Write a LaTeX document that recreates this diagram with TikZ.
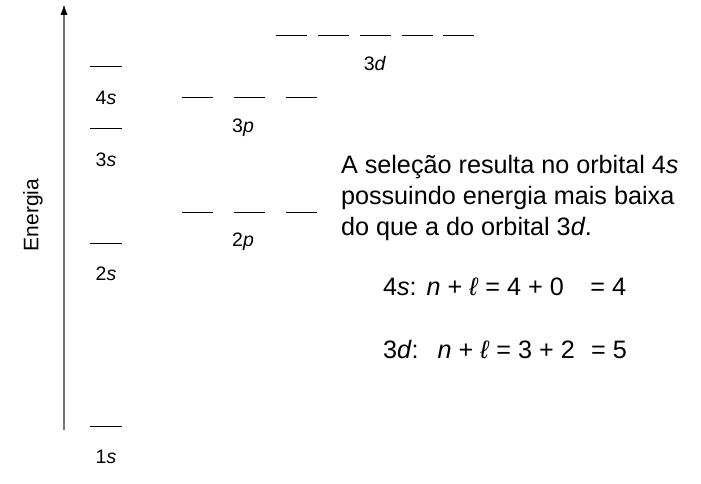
\documentclass[tikz,border=0pt]{standalone}
\usepackage{fontspec}
\setmainfont{Liberation Sans}
\usetikzlibrary{arrows.meta}
\tikzset{
  nivel/.style={draw=black, line width=1pt},
  rotulo/.style={inner sep=0, outer sep=0, font=\fontsize{19.5}{22}\selectfont},
  texto/.style={inner sep=0, outer sep=0, align=left, font=\fontsize{25.2}{31}\selectfont},
}
\begin{document}
\begin{tikzpicture}[x=1pt, y=-1pt]
        \useasboundingbox (0,0) rectangle (701,484);
        % eixo de energia
        \coordinate (base) at (64,430);
        \coordinate (topo) at (64,6);
        \draw [draw=black!55, line width=1.6pt] (base) -- (topo);
        \fill [black] (topo) -- ++(-3.5,9) -- ++(7,0) -- cycle;
        \node [rotulo, rotate=90, font=\fontsize{21}{24}\selectfont] (energia) at (33,215) {Energia};
        % orbitais s
        \foreach \y/\n in {426/1, 243/2, 129/3, 67/4} {
          \draw [nivel] (90,\y) -- ++(32,0);
          \node [rotulo] (s\n) at (106,\y+31) {\n\textit{s}};
        }
        % orbitais p
        \foreach \y/\n in {98/3, 212/2} {
          \foreach \x in {182,234,286} \draw [nivel] (\x,\y) -- ++(31,0);
          \node [rotulo] (p\n) at (243,\y+30) {\n\textit{p}};
        }
        % orbitais d
        \foreach \x in {276,318,360,402,443} \draw [nivel] (\x,36) -- ++(31,0);
        \node [rotulo] (d3) at (375,64) {3\textit{d}};
        % texto
        \node [texto, anchor=west] (selecao) at (341,198) {A seleção resulta no orbital 4\textit{s}\\possuindo energia mais baixa\\do que a do orbital 3\textit{d}.};
        \node [texto, anchor=west] (regra4s) at (383,287) {4\textit{s}:\hspace{0.4em}\textit{n} + \textit{ℓ} = 4 + 0\hspace{1.05em}= 4};
        \node [texto, anchor=west] (regra3d) at (383,349) {3\textit{d}:\hspace{0.75em}\textit{n} + \textit{ℓ} = 3 + 2\hspace{0.65em}= 5};
      \end{tikzpicture}
\end{document}
